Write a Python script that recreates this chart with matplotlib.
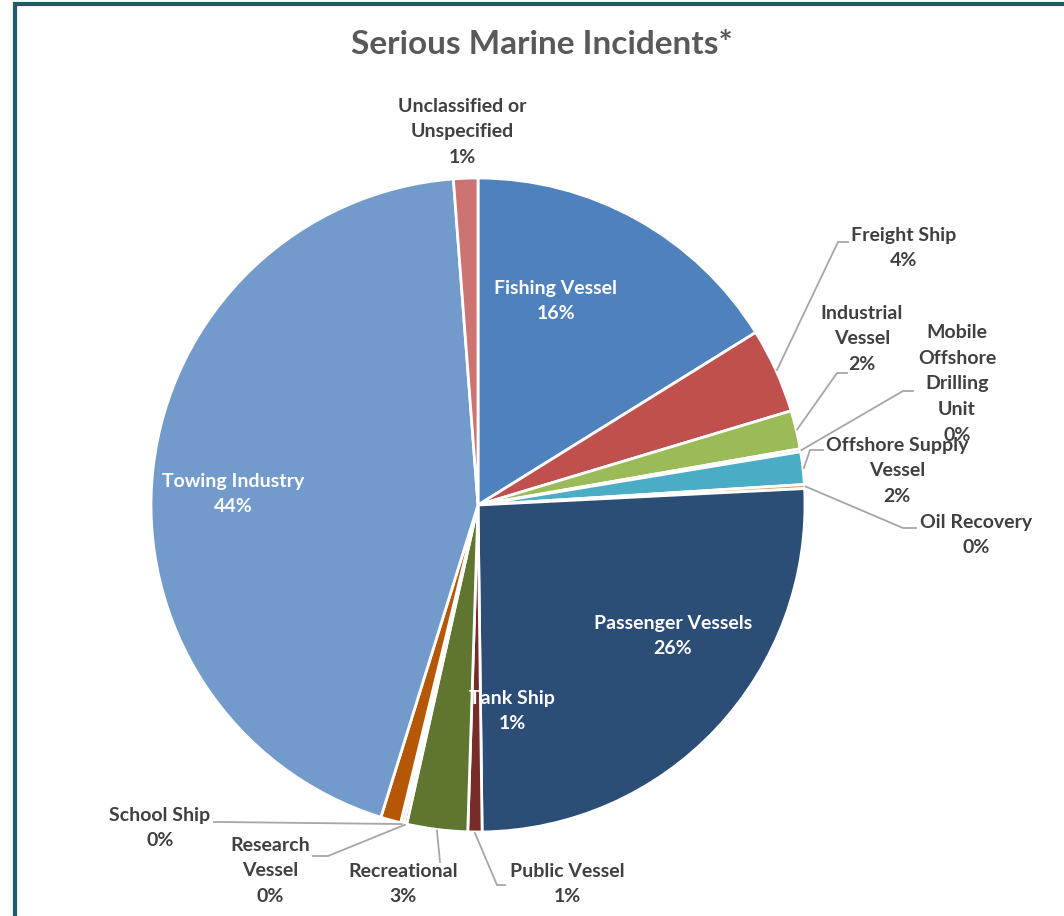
import numpy as np
from matplotlib import pyplot as plt

# slices go clockwise from 12 o'clock, same order as the Excel source
categories = ['Fishing Vessel', 'Freight Ship', 'Industrial\nVessel', 'Mobile\nOffshore\nDrilling\nUnit',
              'Offshore Supply\nVessel', 'Oil Recovery', 'Passenger Vessels', 'Public Vessel',
              'Recreational', 'Research\nVessel', 'School Ship', 'Tank Ship', 'Towing Industry',
              'Unclassified or\nUnspecified']
shares = [16.15, 4.2, 1.9, 0.15, 1.6, 0.2, 25.6, 0.7, 3.0, 0.15, 0.15, 1.0, 44.0, 1.2]
colors = ['#4F81BD', '#C0504D', '#9BBB59', '#8064A2', '#4BACC6', '#F79646', '#2C4D75',
          '#772C2A', '#5F7530', '#4D3B62', '#276A7C', '#B65708', '#729ACA', '#CD7371']
title = 'Serious Marine Incidents*'

W, H = 1064, 916
FONT = ['Lato', 'DejaVu Sans']

# label layout in screen pixels: (text x, text y, inside?, leader bend points)
layout = {
    'Fishing Vessel': (556, 301, True, None),
    'Freight Ship': (904, 248, False, [(838, 242), (848, 242)]),
    'Industrial\nVessel': (862, 339, False, [(837, 373), (847, 373)]),
    'Mobile\nOffshore\nDrilling\nUnit': (957, 384, False, [(903, 391), (913, 391)]),
    'Offshore Supply\nVessel': (897, 471, False, [(810, 450), (823, 450)]),
    'Oil Recovery': (976, 535, False, [(903, 528), (916, 528)]),
    'Passenger Vessels': (673, 636, True, None),
    'Public Vessel': (567, 884, False, [(497, 885), (505, 885)]),
    'Recreational': (403, 884, False, [(440, 862)]),
    'Research\nVessel': (270, 871, False, [(328, 856), (313, 856)]),
    'School Ship': (160, 828, False, [(220, 822), (214, 822)]),
    'Tank Ship': (512, 711, True, None),
    'Towing Industry': (233, 494, True, None),
    'Unclassified or\nUnspecified': (462, 132, False, None),
}


def px(x, y):
    # screen pixel (y down) -> data coords (y up)
    return x, H - y


def draw_pie(ax):
    cx, cy = px(478, 505)
    radius = 327
    wedges, _ = ax.pie(shares, colors=colors, startangle=90, counterclock=False,
                       center=(cx, cy), radius=radius, frame=True,
                       wedgeprops=dict(edgecolor='white', linewidth=2))
    total = sum(shares)
    for w, cat, s in zip(wedges, categories, shares):
        tx, ty, inside, bends = layout[cat]
        pct = '{:.0f}%'.format(round(s / total * 100))
        ax.text(*px(tx, ty), cat + '\n' + pct, ha='center', va='center', multialignment='center',
                fontsize=14, fontweight='bold', family=FONT, linespacing=1.63,
                color='white' if inside else '#404040', zorder=5)
        if bends:
            mid = np.deg2rad((w.theta1 + w.theta2) / 2)
            sx = cx + (radius + 1) * np.cos(mid)
            sy = cy + (radius + 1) * np.sin(mid)
            xs = [sx] + [px(*b)[0] for b in bends]
            ys = [sy] + [px(*b)[1] for b in bends]
            ax.plot(xs, ys, color='#A6A6A6', linewidth=1.3, zorder=4)


def main():
    fig = plt.figure(figsize=(W / 100, H / 100), dpi=100)
    ax = fig.add_axes([0, 0, 1, 1])
    draw_pie(ax)
    ax.set_xlim(0, W)
    ax.set_ylim(0, H)
    ax.set_aspect('equal')
    ax.axis('off')
    ax.text(*px(542, 44), title, ha='center', va='center', fontsize=24, fontweight='bold',
            family=FONT, color='#595959')
    # chart frame (only top and left edges visible in the crop)
    ax.plot([15, 15, W], [0, H - 4, H - 4], color='#215B66', linewidth=3, clip_on=False,
            solid_joinstyle='miter')
    fig.savefig('out.png', dpi=100)


if __name__ == '__main__':
    main()
